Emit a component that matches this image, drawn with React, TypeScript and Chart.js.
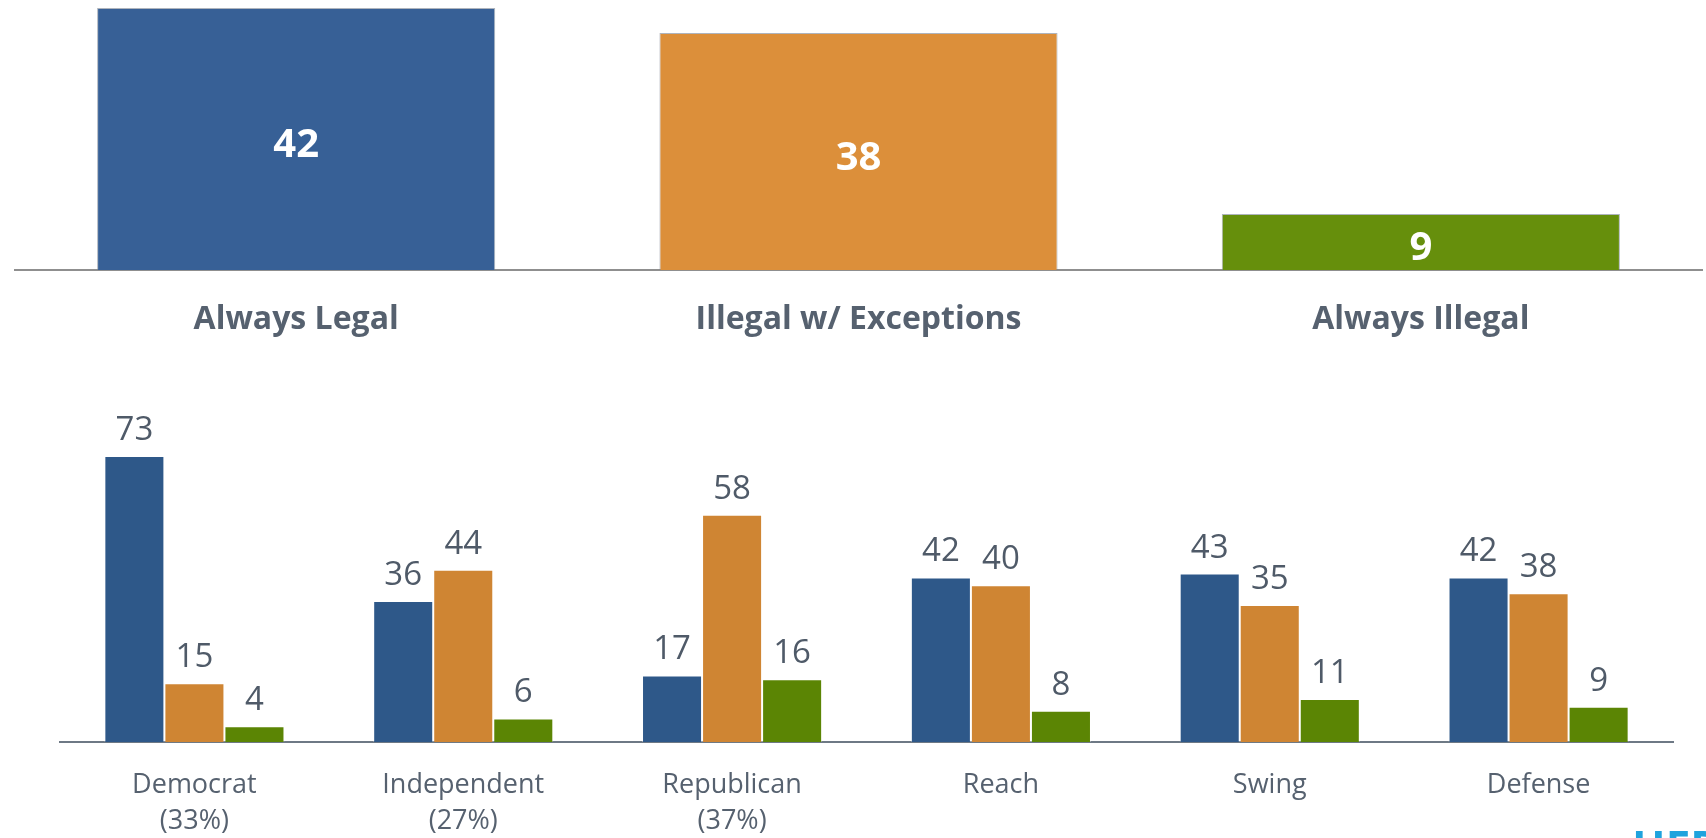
import React, { useEffect, useRef } from "react";
import { Chart, registerables } from "chart.js";

Chart.register(...registerables);

// ---------- Data ----------
const overallCategories = ["Always Legal", "Illegal w/ Exceptions", "Always Illegal"];
const overallValues = [42, 38, 9];
const overallColors = ["#376096", "#dc8f3a", "#668f0c"];

const groupLabels = [
  ["Democrat", "(33%)"],
  ["Independent", "(27%)"],
  ["Republican", "(37%)"],
  ["Reach"],
  ["Swing"],
  ["Defense"],
];
const seriesNames = ["Always Legal", "Illegal w/ Exceptions", "Always Illegal"];
const alwaysLegal = [73, 36, 17, 42, 43, 42];
const illegalExceptions = [15, 44, 58, 40, 35, 38];
const alwaysIllegal = [4, 6, 16, 8, 11, 9];
const groupColors = ["#2e5889", "#cf8533", "#5b8504"];

const FONT = "'Open Sans', 'Noto Sans', sans-serif";
const TEXT_COLOR = "#56616f";

const valueLabels = {
  id: "valueLabels",
  afterDatasetsDraw(chart: any, _args: any, opts: any) {
    const ctx = chart.ctx;
    chart.data.datasets.forEach((ds: any, di: number) => {
      const meta = chart.getDatasetMeta(di);
      meta.data.forEach((bar: any, i: number) => {
        const v = ds.data[i];
        ctx.save();
        ctx.font = opts.font;
        ctx.fillStyle = opts.color;
        ctx.textAlign = "center";
        if (opts.inside) {
          ctx.textBaseline = "middle";
          ctx.fillText(String(v), bar.x, (bar.y + bar.base) / 2 + opts.offset);
        } else {
          ctx.textBaseline = "alphabetic";
          ctx.fillText(String(v), bar.x, bar.y - opts.offset);
        }
        ctx.restore();
      });
    });
  },
};

function TopChart() {
  const ref = useRef<HTMLCanvasElement>(null);
  useEffect(() => {
    if (!ref.current) return;
    const chart = new Chart(ref.current, {
      type: "bar",
      data: {
        labels: overallCategories,
        datasets: [
          {
            label: "Overall",
            data: overallValues,
            backgroundColor: overallColors,
            borderColor: "rgba(120,130,145,0.6)",
            borderWidth: 1,
            categoryPercentage: 1,
            barPercentage: 0.708,
          },
        ],
      },
      options: {
        responsive: false,
        maintainAspectRatio: false,
        animation: false,
        layout: { padding: { left: 15, right: 4, top: 0, bottom: 0 } },
        plugins: {
          legend: { display: false },
          tooltip: { enabled: false },
          valueLabels: { inside: true, font: `bold 40px ${FONT}`, color: "#ffffff", offset: 7 },
        } as any,
        scales: {
          x: {
            grid: { display: false },
            border: { display: true, color: "#8f8f8f", width: 2 },
            ticks: {
              color: TEXT_COLOR,
              font: { family: FONT, size: 32, weight: "bold", lineHeight: 1.2 },
              padding: 23,
              maxRotation: 0,
              autoSkip: false,
            },
            afterFit: (scale: any) => {
              scale.height = 90;
            },
          },
          y: {
            display: false,
            min: 0,
            max: 43.3,
          },
        },
      },
      plugins: [valueLabels],
    } as any);
    return () => chart.destroy();
  }, []);
  return <canvas ref={ref} width={1706} height={360} style={{ display: "block", width: 1706, height: 360 }} />;
}

function BottomChart() {
  const ref = useRef<HTMLCanvasElement>(null);
  useEffect(() => {
    if (!ref.current) return;
    const series = [alwaysLegal, illegalExceptions, alwaysIllegal];
    const chart = new Chart(ref.current, {
      type: "bar",
      data: {
        labels: groupLabels,
        datasets: series.map((d, i) => ({
          label: seriesNames[i],
          data: d,
          backgroundColor: groupColors[i],
          borderColor: "rgba(255,255,255,0.35)",
          borderWidth: 1,
          categoryPercentage: 0.67,
          barPercentage: 1,
        })),
      },
      options: {
        responsive: false,
        maintainAspectRatio: false,
        animation: false,
        layout: { padding: { left: 60, right: 33, top: 0, bottom: 0 } },
        plugins: {
          legend: { display: false },
          tooltip: { enabled: false },
          valueLabels: { inside: false, font: `33px ${FONT}`, color: "#4f5a68", offset: 16 },
        } as any,
        scales: {
          x: {
            grid: { display: false },
            border: { display: true, color: "#6e7985", width: 2 },
            ticks: {
              color: TEXT_COLOR,
              font: { family: FONT, size: 27, lineHeight: 1.33 },
              padding: 17,
              maxRotation: 0,
              autoSkip: false,
            },
            afterFit: (scale: any) => {
              scale.height = 96;
            },
          },
          y: {
            display: false,
            min: 0,
            max: 87.3,
          },
        },
      },
      plugins: [valueLabels],
    } as any);
    return () => chart.destroy();
  }, []);
  return <canvas ref={ref} width={1706} height={438} style={{ display: "block", width: 1706, height: 438 }} />;
}

export default function App() {
  return (
    <div
      style={{
        position: "fixed",
        left: 0,
        top: 0,
        width: 1706,
        height: 838,
        overflow: "hidden",
        background: "#ffffff",
      }}
    >
      <div style={{ position: "absolute", left: 0, top: 0 }}>
        <TopChart />
      </div>
      <div style={{ position: "absolute", left: 0, top: 400 }}>
        <BottomChart />
      </div>
      <div
        style={{
          position: "absolute",
          left: 1632,
          top: 824,
          fontFamily: FONT,
          fontWeight: 700,
          fontSize: 44,
          lineHeight: 1,
          color: "#1fa3dd",
          whiteSpace: "nowrap",
        }}
      >
        HER
      </div>
    </div>
  );
}
